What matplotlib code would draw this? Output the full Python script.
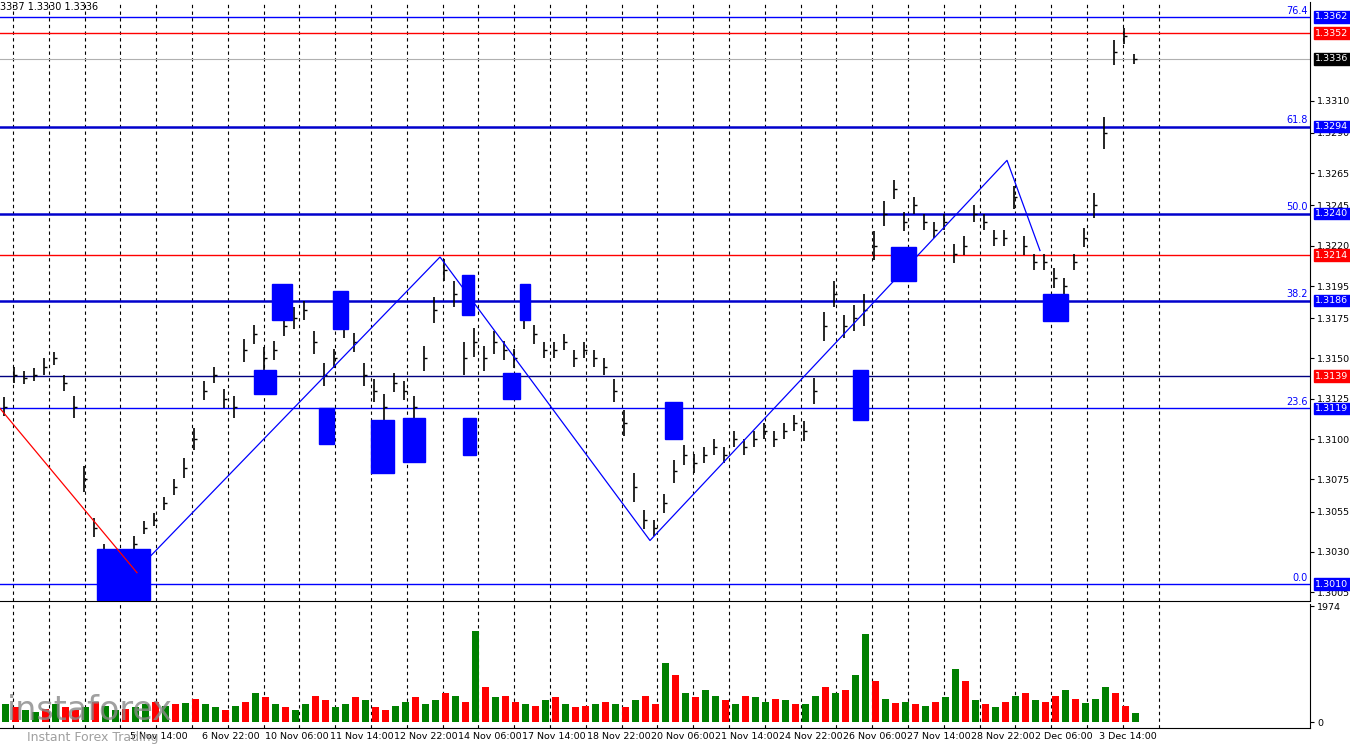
import matplotlib
matplotlib.use("Agg")
import matplotlib.pyplot as plt
from matplotlib.patches import Rectangle

mid = [1.3120,1.3140,1.3138,1.3140,1.3145,1.3150,1.3135,1.3120,1.3075,1.3045,1.3030,1.3022,1.3020,1.3035,1.3045,1.3050,1.3060,1.3070,1.3082,1.3100,
       1.3130,1.3140,1.3125,1.3120,1.3155,1.3165,1.3150,1.3155,1.3170,1.3175,1.3180,1.3160,1.3140,1.3150,1.3170,1.3160,1.3140,1.3130,1.3120,1.3135,
       1.3130,1.3120,1.3150,1.3180,1.3205,1.3190,1.3150,1.3160,1.3150,1.3160,1.3155,1.3150,1.3175,1.3165,1.3155,1.3155,1.3160,1.3150,1.3155,1.3150,
       1.3145,1.3130,1.3110,1.3070,1.3050,1.3045,1.3060,1.3080,1.3090,1.3085,1.3090,1.3095,1.3090,1.3100,1.3095,1.3100,1.3105,1.3100,1.3105,1.3110,
       1.3105,1.3130,1.3170,1.3190,1.3170,1.3175,1.3180,1.3220,1.3240,1.3255,1.3235,1.3245,1.3235,1.3230,1.3235,1.3215,1.3220,1.3240,1.3235,1.3225,
       1.3225,1.3250,1.3220,1.3210,1.3210,1.3200,1.3195,1.3210,1.3225,1.3245,1.3290,1.3340,1.3350,1.3336]
spread = [12,10,8,8,10,8,10,14,16,12,10,10,10,10,8,8,8,10,12,14,
          12,10,12,14,14,12,14,12,12,14,12,14,14,12,14,12,14,14,16,12,
          12,14,16,16,14,16,20,18,16,14,12,12,14,12,10,10,10,10,10,10,
          10,14,16,18,12,10,12,14,12,12,10,10,10,10,10,10,10,10,10,10,
          12,16,18,16,14,16,20,18,16,12,12,10,10,10,10,12,12,10,10,10,
          10,14,12,10,10,12,10,10,12,16,20,16,10,6]
volume = [300,250,200,180,220,300,250,200,260,350,280,200,220,250,300,350,280,300,320,400,
          300,250,200,280,350,500,420,300,250,200,300,450,380,260,300,420,380,250,200,280,
          350,420,300,380,500,450,350,1550,600,420,450,350,300,280,380,430,300,250,280,300,
          350,300,250,380,450,300,1000,800,500,420,550,450,380,300,450,420,350,400,380,300,
          300,450,600,500,550,800,1500,700,400,320,350,300,280,350,420,900,700,380,300,250,
          350,450,500,380,350,450,550,400,320,400,600,500,280,150]
vol_up = [1,0,1,1,0,1,0,0,1,0,1,1,0,1,1,0,1,0,1,0,
          1,1,0,1,0,1,0,1,0,1,1,0,0,1,1,0,1,0,0,1,
          1,0,1,1,0,1,0,1,0,1,0,0,1,0,1,0,1,0,0,1,
          0,1,0,1,0,0,1,0,1,0,1,1,0,1,0,1,1,0,1,0,
          1,1,0,1,0,1,1,0,1,0,1,0,1,0,1,1,0,1,0,1,
          0,1,0,1,0,0,1,0,1,1,1,0,0,1]
bar_step = 10

boxes = [(97,150,1.3032,1.3000),(254,276,1.3143,1.3128),(272,292,1.3196,1.3174),(319,334,1.3119,1.3097),
         (333,348,1.3192,1.3168),(371,394,1.3112,1.3079),(403,425,1.3113,1.3086),(463,476,1.3113,1.3090),
         (462,474,1.3202,1.3177),(503,520,1.3141,1.3125),(520,530,1.3196,1.3174),(665,682,1.3123,1.3100),
         (853,868,1.3143,1.3112),(891,916,1.3219,1.3198),(1043,1068,1.3190,1.3173)]
trend_x = [125,440,650,1007,1040]
trend_y = [1.3011,1.3213,1.3037,1.3273,1.3217]
red_x = [0,137]; red_y = [1.3119,1.3017]

levels = [(1.3362,'#0000ff',1.0,'76.4'),(1.3352,'#ff0000',1.0,None),(1.3294,'#0000cc',1.8,'61.8'),
          (1.3240,'#0000cc',1.8,'50.0'),(1.3214,'#ff0000',1.0,None),(1.3186,'#0000cc',1.8,'38.2'),
          (1.3139,'#000080',1.0,None),(1.3119,'#0000ff',1.0,'23.6'),(1.3010,'#0000ff',1.0,'0.0')]
label_boxes = [(1.3362,'#0000ff'),(1.3352,'#ff0000'),(1.3336,'#000000'),(1.3294,'#0000ff'),(1.3240,'#0000ff'),
               (1.3214,'#ff0000'),(1.3186,'#0000ff'),(1.3139,'#ff0000'),(1.3119,'#0000ff'),(1.3010,'#0000ff')]
price_ticks = [1.3310,1.3290,1.3265,1.3245,1.3220,1.3195,1.3175,1.3150,1.3125,1.3100,1.3075,1.3055,1.3030,1.3005]
date_labels = ["5 Nov 14:00","6 Nov 22:00","10 Nov 06:00","11 Nov 14:00","12 Nov 22:00","14 Nov 06:00","17 Nov 14:00",
               "18 Nov 22:00","20 Nov 06:00","21 Nov 14:00","24 Nov 22:00","26 Nov 06:00","27 Nov 14:00",
               "28 Nov 22:00","2 Dec 06:00","3 Dec 14:00"]
date_pos = [130,202,265,330,394,458,522,587,651,715,779,843,907,971,1035,1099]

W, H = 1350, 750
fig = plt.figure(figsize=(13.5,7.5), dpi=100)
XMAX = 1310
ax = fig.add_axes([0, 149/H, XMAX/W, 599/H])
axv = fig.add_axes([0, 22/H, XMAX/W, 124/H])
ppx = 16108.0
ytop = 1.3362 + 15/ppx; ybot = 1.3010 - 17/ppx
ax.set_xlim(0, XMAX); ax.set_ylim(ybot, ytop)
axv.set_xlim(0, XMAX); axv.set_ylim(-100, 1974*113/111)

for a in (ax, axv):
    for xv in [13 + 35.8*k for k in range(33)]:
        if xv < 1175:
            a.axvline(xv, color='black', ls=(0,(3,3)), lw=0.8, zorder=0)
    a.tick_params(axis='both', length=3, labelsize=6.8, direction='out', pad=2)
    a.yaxis.tick_right()
    for s in ['left','top']:
        a.spines[s].set_visible(False)

xs = [i*bar_step + 4 for i in range(len(mid))]
for x, m, s in zip(xs, mid, spread):
    h = m + s*0.0001/2; l = m - s*0.0001/2
    ax.vlines(x, l, h, color='black', lw=1.2, zorder=3)
    ax.hlines(m, x, x+3, color='black', lw=1.0, zorder=3)

for lv, c, lw, lab in levels:
    ax.axhline(lv, color=c, lw=lw, zorder=2)
    if lab:
        ax.text(XMAX-2, lv+0.00008, lab, color='#0000ff', fontsize=7, ha='right', va='bottom')
ax.axhline(1.3336, color='#b0b0b0', lw=0.8, zorder=1)

for x0, x1, pt, pb in boxes:
    ax.add_patch(Rectangle((x0, pb), x1-x0, pt-pb, color='#0000ff', zorder=4))
ax.plot(trend_x, trend_y, color='#0000ff', lw=0.9, zorder=5)
ax.plot(red_x, red_y, color='#ff0000', lw=0.9, zorder=5)

ax.set_yticks(price_ticks)
ax.set_yticklabels([f"{p:.4f}" for p in price_ticks])
ax.set_xticks([])
for p, c in label_boxes:
    ax.text(XMAX+5, p, f"{p:.4f}", color='white', fontsize=6.8, va='center', ha='left',
            bbox=dict(boxstyle='square,pad=0.15', fc=c, ec=c), zorder=10, clip_on=False)
ax.text(0, ytop-0.00002, "3337 1.3330 1.3336", fontsize=7, va='top', ha='left')

vcol = ['#008000' if u else '#ff0000' for u in vol_up]
axv.bar([x+1 for x in xs], volume, width=bar_step*0.7, color=vcol, zorder=3)
axv.set_yticks([0,1974]); axv.set_yticklabels(['0','1974'])
axv.set_xticks(date_pos); axv.set_xticklabels(date_labels, ha='left')
axv.tick_params(axis='x', length=0, pad=3)

fig.text(0.005, 0.04, "instaforex", fontsize=24, color='#888888', alpha=0.8)
fig.text(0.02, 0.012, "Instant Forex Trading", fontsize=9, color='#888888', alpha=0.8)
fig.savefig("out.png", dpi=100)
